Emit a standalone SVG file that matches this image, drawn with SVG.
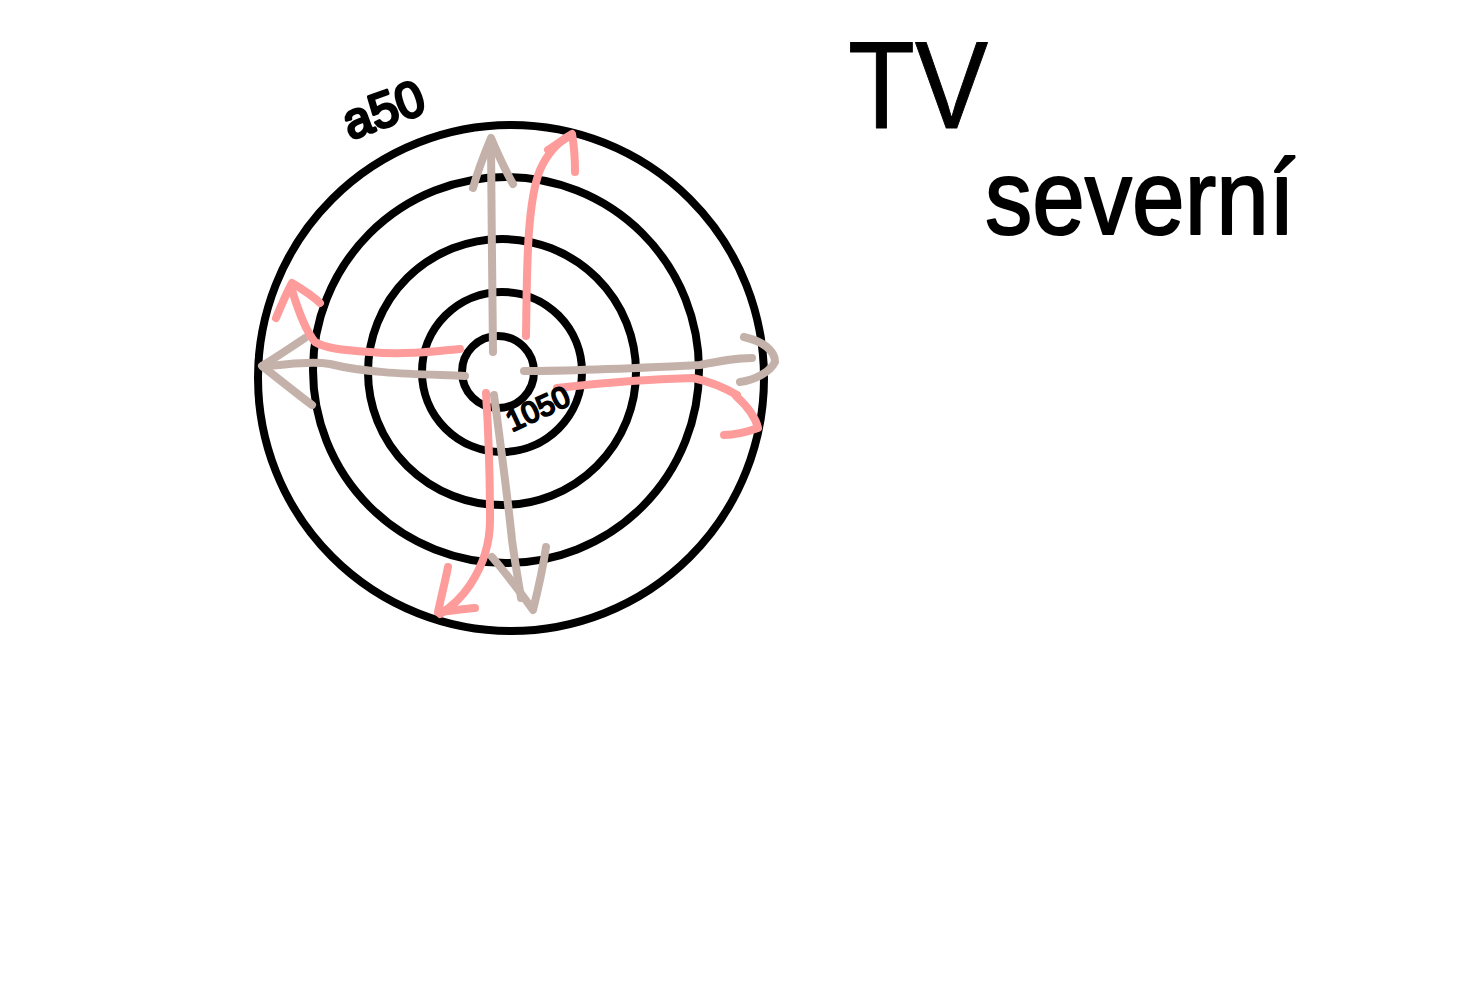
<svg xmlns="http://www.w3.org/2000/svg" width="1482" height="1000" viewBox="0 0 1482 1000">
<style>
.ring{fill:none;stroke:#000;stroke-width:8}
.tan{fill:none;stroke:#c4b2aa;stroke-width:8;stroke-linecap:round;stroke-linejoin:round}
.pink{fill:none;stroke:#fd9c9a;stroke-width:8;stroke-linecap:round;stroke-linejoin:round}
.hand{font-family:"Liberation Sans","DejaVu Sans",sans-serif;fill:#000;stroke:#000;stroke-linejoin:round}
</style>
<rect width="1482" height="1000" fill="#fff"/>
<g id="rings">
<circle class="ring" cx="511" cy="378" r="253"/>
<ellipse class="ring" cx="506" cy="370" rx="193" ry="193"/>
<ellipse class="ring" cx="502" cy="372" rx="134" ry="133"/>
<circle class="ring" cx="502" cy="372" r="80"/>
<circle class="ring" cx="498" cy="372" r="36"/>
</g>
<g id="connectors">
<path class="tan" d="M493,352 C493,290 491,210 491,142"/>
<path class="tan" d="M473,188 C478,170 486,150 491,138 C497,152 505,170 513,184"/>
<path class="pink" d="M526,336 C527,280 526,205 540,170 C548,152 558,142 570,136"/>
<path class="pink" d="M548,150 C556,145 565,138 572,134 C574,145 575,158 575,172"/>
<path class="tan" d="M465,376 C420,374 370,374 330,364 C305,360 285,366 263,366"/>
<path class="tan" d="M305,338 C290,348 275,358 262,366 C280,380 296,393 312,405"/>
<path class="pink" d="M460,349 C430,352 400,355 370,352 C340,350 325,348 315,342 C305,330 298,310 292,290"/>
<path class="pink" d="M276,318 C281,306 287,292 292,283 C302,289 313,296 320,303"/>
<path class="tan" d="M524,371 C580,371 640,368 700,365 C720,361 735,358 752,358"/>
<path class="tan" d="M744,337 C762,341 775,350 775,362 C770,372 755,380 740,382"/>
<path class="pink" d="M557,388 C600,383 650,379 693,378 C712,382 725,388 737,395"/>
<path class="pink" d="M736,396 C746,405 755,415 758,428 C747,432 735,435 724,435"/>
<path class="tan" d="M494,395 C500,440 508,500 512,540 C516,570 520,590 521,598"/>
<path class="tan" d="M492,557 C505,572 520,592 533,610 C538,590 543,568 546,547"/>
<path class="pink" d="M486,393 C489,440 490,480 490,520 C490,550 480,570 470,585 C460,600 450,608 440,614"/>
<path class="pink" d="M448,567 C445,582 441,598 438,612 C450,611 463,609 475,608"/>
</g>
<g id="label-a50"><text class="hand" x="350" y="140" font-size="50" stroke-width="3" transform="rotate(-20 350 140)">a50</text></g>
<g id="label-1050"><text class="hand" x="512" y="432" font-size="30" stroke-width="2" transform="rotate(-25 512 432)">1050</text></g>
<g id="label-tv"><text class="hand" x="848" y="128" font-size="125" stroke-width="1" textLength="140" lengthAdjust="spacingAndGlyphs">TV</text></g>
<g id="label-severni"><text class="hand" x="985" y="234" font-size="105" stroke-width="2" textLength="310" lengthAdjust="spacingAndGlyphs">severní</text></g>
</svg>
